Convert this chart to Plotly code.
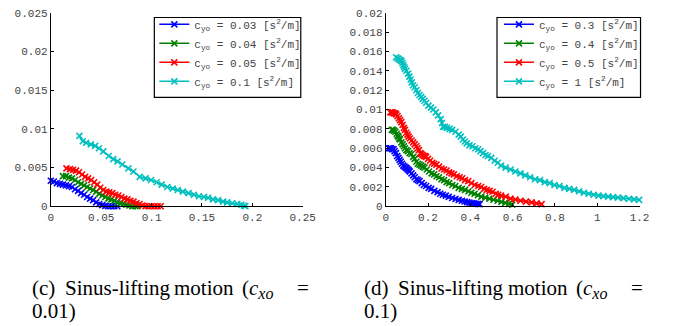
import plotly.graph_objects as go

W, H = 675, 326

# ---------------- data ----------------
left_names = ["0.03", "0.04", "0.05", "0.1"]
right_names = ["0.3", "0.4", "0.5", "1"]
colors = ["#0000FF", "#008000", "#FF0000", "#00BFBF"]

l_blue_x = [0.000, 0.003, 0.006, 0.009, 0.012, 0.015, 0.018, 0.021, 0.024, 0.027, 0.030, 0.033, 0.036,
            0.039, 0.042, 0.045, 0.048, 0.051, 0.054, 0.057, 0.060, 0.063, 0.066]
l_blue_y = [0.0033, 0.0032, 0.0030, 0.0029, 0.0028, 0.0027, 0.0026, 0.0025, 0.0022, 0.0020, 0.0017,
            0.0015, 0.0012, 0.0010, 0.0008, 0.0005, 0.0003, 0.00015, 0.00005, 0.0, 0.0, 0.0, 0.0]

l_green_x = [0.012, 0.015, 0.018, 0.021, 0.024, 0.027, 0.030, 0.033, 0.036, 0.039, 0.042, 0.045, 0.048,
             0.051, 0.054, 0.057, 0.060, 0.063, 0.066, 0.069, 0.072, 0.075, 0.078, 0.081, 0.084, 0.086]
l_green_y = [0.0039, 0.0039, 0.0037, 0.0036, 0.0034, 0.0031, 0.0029, 0.0027, 0.0025, 0.0023, 0.0021,
             0.0019, 0.0016, 0.0014, 0.0012, 0.0010, 0.0009, 0.0007, 0.0005, 0.0004, 0.0003, 0.0002,
             0.0001, 0.00003, 0.0, 0.0]

l_red_x = [0.0155, 0.019, 0.022, 0.025, 0.028, 0.031, 0.034, 0.037, 0.040, 0.043, 0.046, 0.049, 0.052,
           0.055, 0.058, 0.061, 0.064, 0.067, 0.070, 0.073, 0.076, 0.079, 0.082, 0.085, 0.088, 0.091,
           0.094, 0.097, 0.100, 0.103, 0.106, 0.109]
l_red_y = [0.0049, 0.0048, 0.0047, 0.0046, 0.0044, 0.0041, 0.0038, 0.0036, 0.0034, 0.0031, 0.0028,
           0.0024, 0.0021, 0.0019, 0.0018, 0.0017, 0.0015, 0.0014, 0.0012, 0.0010, 0.0009, 0.0007,
           0.0006, 0.0004, 0.0003, 0.0001, 0.00003, 0.0, 0.0, 0.0, 0.0, 0.0]

l_cyan_x = [0.0284, 0.0317, 0.035, 0.0397, 0.044, 0.0478, 0.052, 0.0575, 0.062, 0.0662, 0.071, 0.0769,
            0.082, 0.0882, 0.094, 0.0995, 0.105, 0.110, 0.1156, 0.121, 0.126, 0.131, 0.1366, 0.142,
            0.147, 0.152, 0.156, 0.161, 0.166, 0.171, 0.175, 0.180, 0.185, 0.189, 0.1916, 0.193]
l_cyan_y = [0.0091, 0.0084, 0.0082, 0.0080, 0.0078, 0.0075, 0.0071, 0.0065, 0.0061, 0.0058, 0.0054,
            0.0049, 0.0045, 0.0038, 0.0036, 0.0034, 0.0031, 0.0028, 0.0025, 0.0023, 0.0021, 0.0019,
            0.0017, 0.0015, 0.0013, 0.0012, 0.0011, 0.0009, 0.0008, 0.0006, 0.0005, 0.0004, 0.0003,
            0.0002, 0.0001, 0.0]

r_blue_x = [0.014, 0.020, 0.025, 0.031, 0.037, 0.042, 0.048, 0.054, 0.060, 0.066, 0.071, 0.077, 0.083,
            0.089, 0.095, 0.100, 0.105, 0.110, 0.114, 0.122, 0.130, 0.137, 0.145, 0.152, 0.160, 0.170,
            0.180, 0.191, 0.203, 0.215, 0.230, 0.245, 0.258, 0.270, 0.284, 0.298, 0.314, 0.330, 0.345,
            0.360, 0.373, 0.385, 0.396, 0.406, 0.416, 0.425, 0.435, 0.444]
r_blue_y = [0.0060, 0.0060, 0.0060, 0.0059, 0.0059, 0.0057, 0.0055, 0.0052, 0.0050, 0.0048, 0.0046,
            0.0044, 0.0042, 0.0041, 0.0040, 0.0039, 0.0038, 0.0037, 0.0036, 0.0034, 0.0032, 0.0030,
            0.0028, 0.0027, 0.0026, 0.0024, 0.0022, 0.0021, 0.0019, 0.0018, 0.0016, 0.00146, 0.0013,
            0.0012, 0.0011, 0.00097, 0.00086, 0.00075, 0.00066, 0.00057, 0.0005, 0.00043, 0.00038,
            0.00033, 0.0003, 0.00027, 0.00025, 0.00023]

r_green_x = [0.029, 0.035, 0.040, 0.046, 0.052, 0.056, 0.060, 0.064, 0.068, 0.074, 0.080, 0.086, 0.091,
             0.098, 0.105, 0.113, 0.122, 0.130, 0.137, 0.145, 0.152, 0.160, 0.168, 0.175, 0.183, 0.194,
             0.205, 0.217, 0.229, 0.240, 0.252, 0.264, 0.276, 0.288, 0.300, 0.315, 0.329, 0.345, 0.360,
             0.375, 0.391, 0.405, 0.420, 0.436, 0.452, 0.471, 0.490, 0.510, 0.529, 0.547, 0.565, 0.582,
             0.598]
r_green_y = [0.0079, 0.0079, 0.0078, 0.0077, 0.0075, 0.0073, 0.0072, 0.0070, 0.0069, 0.0066, 0.0064,
             0.0062, 0.0060, 0.0058, 0.0057, 0.0055, 0.0054, 0.0051, 0.0049, 0.0046, 0.0044, 0.0043,
             0.0042, 0.0041, 0.0040, 0.0038, 0.0036, 0.0034, 0.0033, 0.0031, 0.0030, 0.0028, 0.0027,
             0.0025, 0.0024, 0.0022, 0.0021, 0.0019, 0.0018, 0.0017, 0.00156, 0.0014, 0.0013, 0.00115,
             0.0010, 0.0009, 0.0008, 0.00068, 0.00057, 0.00046, 0.00035, 0.00025, 0.00017]

r_red_x = [0.022, 0.028, 0.033, 0.039, 0.045, 0.050, 0.056, 0.062, 0.068, 0.074, 0.080, 0.086, 0.091,
           0.097, 0.103, 0.108, 0.114, 0.122, 0.130, 0.137, 0.145, 0.151, 0.157, 0.163, 0.168, 0.174,
           0.180, 0.186, 0.191, 0.200, 0.210, 0.220, 0.229, 0.240, 0.252, 0.264, 0.276, 0.288, 0.300,
           0.311, 0.322, 0.336, 0.350, 0.362, 0.375, 0.390, 0.405, 0.421, 0.437, 0.451, 0.465, 0.478,
           0.491, 0.505, 0.520, 0.532, 0.545, 0.567, 0.590, 0.613, 0.637, 0.663, 0.690, 0.713, 0.737]
r_red_y = [0.0097, 0.0097, 0.0097, 0.0096, 0.0096, 0.0095, 0.0093, 0.0091, 0.0089, 0.0087, 0.0084,
           0.0081, 0.0079, 0.0076, 0.0074, 0.0072, 0.0070, 0.0068, 0.0066, 0.0064, 0.0062, 0.0060,
           0.0058, 0.0055, 0.0054, 0.0053, 0.0052, 0.0052, 0.0051, 0.0049, 0.0047, 0.0045, 0.0044,
           0.0043, 0.0041, 0.0039, 0.0038, 0.0037, 0.0035, 0.0034, 0.0033, 0.0031, 0.0030, 0.0029,
           0.0027, 0.0026, 0.0024, 0.0022, 0.0021, 0.0020, 0.0018, 0.0017, 0.0016, 0.0015, 0.0013,
           0.0012, 0.0011, 0.0010, 0.0008, 0.0007, 0.00057, 0.00048, 0.0004, 0.0003, 0.00023]

r_cyan_x = [0.049, 0.056, 0.062, 0.069, 0.075, 0.079, 0.083, 0.087, 0.091, 0.098, 0.106, 0.112, 0.118,
            0.123, 0.129, 0.137, 0.145, 0.152, 0.160, 0.168, 0.175, 0.183, 0.191, 0.202, 0.214, 0.225,
            0.237, 0.248, 0.260, 0.266, 0.271, 0.280, 0.290, 0.302, 0.314, 0.330, 0.345, 0.355, 0.365,
            0.374, 0.383, 0.396, 0.410, 0.424, 0.437, 0.448, 0.460, 0.472, 0.483, 0.499, 0.515, 0.530,
            0.545, 0.567, 0.590, 0.613, 0.637, 0.660, 0.683, 0.706, 0.729, 0.752, 0.775, 0.798, 0.821,
            0.845, 0.868, 0.891, 0.914, 0.937, 0.960, 0.983, 1.006, 1.029, 1.052, 1.075, 1.098, 1.124,
            1.150, 1.174, 1.198]
r_cyan_y = [0.0154, 0.0153, 0.0152, 0.0151, 0.0150, 0.0148, 0.0146, 0.0144, 0.0142, 0.0140, 0.0137,
            0.0134, 0.0131, 0.0128, 0.0125, 0.0123, 0.0120, 0.0117, 0.0115, 0.0113, 0.0111, 0.0109,
            0.0107, 0.0104, 0.0102, 0.0100, 0.0097, 0.0094, 0.0090, 0.0086, 0.0082, 0.0082, 0.0081,
            0.0080, 0.0079, 0.0077, 0.0074, 0.0072, 0.0069, 0.0067, 0.0065, 0.0063, 0.0062, 0.0060,
            0.0059, 0.0057, 0.0055, 0.0053, 0.0052, 0.0050, 0.0047, 0.0045, 0.0042, 0.0040, 0.0038,
            0.0036, 0.0034, 0.0032, 0.0030, 0.0028, 0.0027, 0.0025, 0.0024, 0.0022, 0.0021, 0.0019,
            0.0018, 0.0017, 0.00156, 0.0014, 0.0013, 0.0012, 0.0011, 0.00105, 0.0010, 0.00095, 0.0009,
            0.00085, 0.00078, 0.00072, 0.00067]

l_xticks = [0, 0.05, 0.1, 0.15, 0.2, 0.25]
l_xtext = ["0", "0.05", "0.1", "0.15", "0.2", "0.25"]
l_yticks = [0, 0.005, 0.01, 0.015, 0.02, 0.025]
l_ytext = ["0", "0.005", "0.01", "0.015", "0.02", "0.025"]
r_xticks = [0, 0.2, 0.4, 0.6, 0.8, 1.0, 1.2]
r_xtext = ["0", "0.2", "0.4", "0.6", "0.8", "1", "1.2"]
r_yticks = [0, 0.002, 0.004, 0.006, 0.008, 0.01, 0.012, 0.014, 0.016, 0.018, 0.02]
r_ytext = ["0", "0.002", "0.004", "0.006", "0.008", "0.01", "0.012", "0.014", "0.016", "0.018", "0.02"]

# caption words (justified line 1) and second lines
sub_xo = '<sub><span style="font-size:16px"><i>xo</i></span></sub>'
caption_c_words = ["(c)", "Sinus-lifting", "motion", "(<i>c</i>" + sub_xo, "="]
caption_d_words = ["(d)", "Sinus-lifting", "motion", "(<i>c</i>" + sub_xo, "="]
caption_c_line2 = "0.01)"
caption_d_line2 = "0.1)"

# ---------------- figure ----------------
left_series = [(l_blue_x, l_blue_y), (l_green_x, l_green_y), (l_red_x, l_red_y), (l_cyan_x, l_cyan_y)]
right_series = [(r_blue_x, r_blue_y), (r_green_x, r_green_y), (r_red_x, r_red_y), (r_cyan_x, r_cyan_y)]

fig = go.Figure()
for series, names, xa, ya, lg in [(left_series, left_names, "x", "y", "legend"),
                                  (right_series, right_names, "x2", "y2", "legend2")]:
    for (xs, ys), name, col in zip(series, names, colors):
        fig.add_trace(go.Scatter(
            x=xs, y=ys, mode="lines+markers", xaxis=xa, yaxis=ya, legend=lg,
            name="c<sub>yo</sub> = " + name + " [s<sup>2</sup>/m]",
            line=dict(color=col, width=1.6),
            marker=dict(symbol="x-thin", size=6, line=dict(color=col, width=1.6)),
            cliponaxis=False))

tickfont = dict(family="Liberation Mono", size=11, color="#444444")
ax_common = dict(showline=True, linecolor="black", linewidth=1, ticks="inside", ticklen=3,
                 tickcolor="black", showgrid=False, zeroline=False, tickfont=tickfont, mirror=False)

y_dom = [(H - 209) / H, (H - 8) / H]
legfont = dict(family="Liberation Mono", size=11, color="#444444")
# legend frames drawn as shapes, legends placed inside them without their own border
frames = [(155, 13, 305, 96), (506, 13, 653, 96)]
shapes = [dict(type="rect", xref="paper", yref="paper", x0=a / W, x1=c / W, y0=1 - d / H, y1=1 - b / H,
               line=dict(color="black", width=1.2), fillcolor="white", layer="above")
          for a, b, c, d in frames]
fig.update_layout(
    width=W, height=H, margin=dict(l=0, r=0, t=0, b=0),
    paper_bgcolor="white", plot_bgcolor="white",
    xaxis=dict(domain=[49 / W, 307 / W], range=[0, 0.25], tickvals=l_xticks, ticktext=l_xtext,
               anchor="y", **ax_common),
    yaxis=dict(domain=y_dom, range=[0, 0.025], tickvals=l_yticks, ticktext=l_ytext,
               anchor="x", **ax_common),
    xaxis2=dict(domain=[392 / W, 652 / W], range=[0, 1.2], tickvals=r_xticks, ticktext=r_xtext,
                anchor="y2", **ax_common),
    yaxis2=dict(domain=y_dom, range=[0, 0.02], tickvals=r_yticks, ticktext=r_ytext,
                anchor="x2", **ax_common),
    legend=dict(x=155 / W, y=1 - 5 / H, xanchor="left", yanchor="top", bgcolor="rgba(0,0,0,0)",
                borderwidth=0, itemwidth=30, font=legfont),
    legend2=dict(x=508 / W, y=1 - 5 / H, xanchor="left", yanchor="top", bgcolor="rgba(0,0,0,0)",
                 borderwidth=0, itemwidth=30, font=legfont),
    showlegend=True,
    shapes=shapes,
)

capfont = dict(family="Liberation Serif", size=21, color="black")
line1_top = 279
line2_top = 303
for words, xs, line2, x2 in [(caption_c_words, [31.7, 65, 176.7, 246.7, 303], caption_c_line2, 31.7),
                             (caption_d_words, [371.7, 406.7, 519, 589, 645], caption_d_line2, 371.7)]:
    for w, xp in zip(words, xs):
        fig.add_annotation(x=(xp - 4) / W, y=(H - line1_top) / H, xref="paper", yref="paper", text=w,
                           showarrow=False, xanchor="left", yanchor="top", font=capfont)
    fig.add_annotation(x=(x2 - 4) / W, y=(H - line2_top) / H, xref="paper", yref="paper", text=line2,
                       showarrow=False, xanchor="left", yanchor="top", font=capfont)

fig.write_html("out.html", config={"displayModeBar": False},
               post_script="document.body.style.margin='0';document.body.style.padding='0';")
